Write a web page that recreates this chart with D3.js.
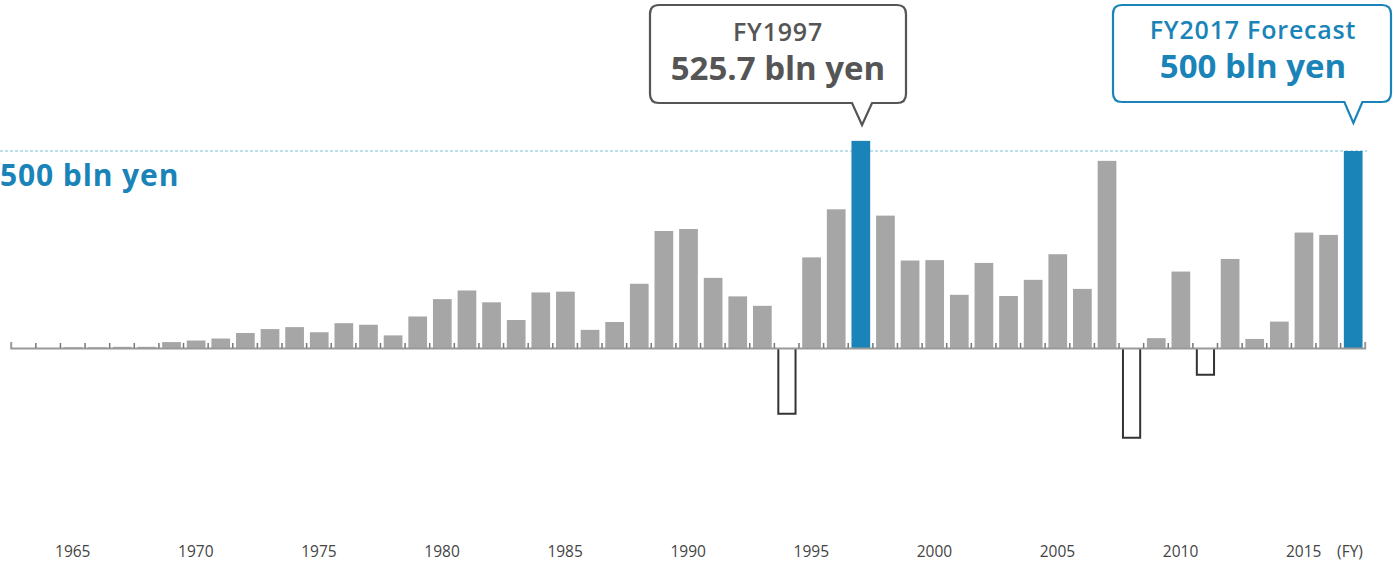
<!DOCTYPE html>
<html>
<head>
<meta charset="utf-8">
<script src="https://d3js.org/d3.v7.min.js"></script>
<style>
  body { margin: 0; background: #fff; }
  svg { display: block; font-family: "Open Sans", "Noto Sans", sans-serif; }
</style>
</head>
<body>
<script>
// fiscal years shown on the axis
var years = d3.range(1963, 2018);

// net income, bln yen, one value per fiscal year
var values = [
  0, 0, 2, 2, 3, 3, 15, 19, 24, 38,
  48, 53, 40, 63, 59, 32, 80, 124, 146, 116,
  71, 141, 143, 46, 66, 163, 297, 302, 178, 131,
  107, -167, 230, 352, 525.7, 336, 222, 223, 135, 216,
  132, 173, 238, 150, 475, -228, 25, 194, -68, 226,
  23, 67, 293, 287, 500
];

// years highlighted in blue, and the year labels under the axis
var highlightYears = [1997, 2017];
var tickYears = [1965, 1970, 1975, 1980, 1985, 1990, 1995, 2000, 2005, 2010, 2015];
var referenceLine = 500;

var data = years.map(function(y, i) { return {year: y, value: values[i]}; });

var width = 1394, height = 563;
var grey = "#a6a6a6", blue = "#1a84b8", textGrey = "#555";

var svg = d3.select("body")
  .append("svg")
    .attr("width", width)
    .attr("height", height);

// linear year scale, each year owns one slot of the same width
var x = d3.scaleLinear()
  .domain([years[0] - 0.5, years[years.length - 1] + 0.5])
  .range([10.7, 1364.7]);

var y = d3.scaleLinear()
  .domain([0, referenceLine])
  .range([348, 151]);

var pad = 0.12;

// dashed 500 bln line
svg.append("line")
  .attr("x1", 0)
  .attr("x2", 1367)
  .attr("y1", y(referenceLine))
  .attr("y2", y(referenceLine))
  .attr("stroke", "#7dbfdc")
  .attr("stroke-width", 1)
  .attr("stroke-dasharray", "3,2");

svg.append("text")
  .attr("x", 0)
  .attr("y", 186)
  .attr("fill", blue)
  .attr("font-size", 30)
  .attr("font-weight", 700)
  .attr("letter-spacing", 0.9)
  .text("500 bln yen");

// positive bars
svg.selectAll("rect.bar")
  .data(data.filter(function(d) { return d.value > 0; }))
  .enter()
  .append("rect")
    .attr("class", "bar")
    .attr("x", function(d) { return x(d.year - 0.5 + pad) + 0.8; })
    .attr("width", function(d) { return x(d.year + 0.5 - pad) - x(d.year - 0.5 + pad); })
    .attr("y", function(d) { return y(d.value); })
    .attr("height", function(d) { return y(0) - y(d.value); })
    .attr("fill", function(d) { return highlightYears.indexOf(d.year) >= 0 ? blue : grey; });

// losses drawn as outlined bars below the axis
svg.selectAll("path.loss")
  .data(data.filter(function(d) { return d.value < 0; }))
  .enter()
  .append("path")
    .attr("class", "loss")
    .attr("d", function(d) {
      var x0 = x(d.year - 0.5 + pad) + 1.5, x1 = x(d.year + 0.5 - pad);
      return "M" + x0 + "," + y(0) + "V" + y(d.value) + "H" + x1 + "V" + y(0);
    })
    .attr("fill", "#fff")
    .attr("stroke", "#333")
    .attr("stroke-width", 2);

// baseline with small ticks between the years
var bounds = years.slice(1).map(function(yr) { return yr - 0.5; });
svg.append("g")
  .attr("class", "x axis")
  .attr("transform", "translate(0," + y(0) + ")")
  .call(d3.axisTop(x).tickValues(bounds).tickSizeInner(5).tickSizeOuter(6).tickFormat(""))
  .call(function(g) {
    g.select(".domain").attr("stroke", "#999").attr("stroke-width", 2);
    g.selectAll(".tick line").attr("stroke", "#777").attr("stroke-width", 1.5);
  });

// year labels
svg.append("g")
  .attr("class", "x labels")
  .attr("transform", "translate(0,546)")
  .call(d3.axisBottom(x).tickValues(tickYears).tickSize(0).tickPadding(0).tickFormat(d3.format("d")))
  .call(function(g) {
    g.select(".domain").remove();
    g.selectAll("text")
      .attr("font-family", "\"Open Sans\", sans-serif")
      .attr("font-size", 15.5)
      .attr("fill", "#444");
  });

svg.append("text")
  .attr("x", 1350)
  .attr("y", 557)
  .attr("text-anchor", "middle")
  .attr("font-size", 15.5)
  .attr("fill", "#444")
  .text("(FY)");

/**
 * calloutPath - rounded box with a pointer at the bottom
 */
function calloutPath(x0, y0, x1, y1, r, tipX, tipY, half) {
  return "M" + (x0 + r) + "," + y0 +
    "H" + (x1 - r) + "Q" + x1 + "," + y0 + " " + x1 + "," + (y0 + r) +
    "V" + (y1 - r) + "Q" + x1 + "," + y1 + " " + (x1 - r) + "," + y1 +
    "H" + (tipX + half) + "L" + tipX + "," + tipY + "L" + (tipX - half) + "," + y1 +
    "H" + (x0 + r) + "Q" + x0 + "," + y1 + " " + x0 + "," + (y1 - r) +
    "V" + (y0 + r) + "Q" + x0 + "," + y0 + " " + (x0 + r) + "," + y0 + "Z";
}

// FY1997 callout
svg.append("path")
  .attr("d", calloutPath(650, 5, 906, 103, 9, x(1997) + 2, 125, 10))
  .attr("fill", "#fff")
  .attr("stroke", "#555")
  .attr("stroke-width", 2.2);

svg.append("text")
  .attr("x", 778).attr("y", 41)
  .attr("text-anchor", "middle")
  .attr("font-size", 25).attr("font-weight", 600)
  .attr("letter-spacing", 0.8)
  .attr("fill", textGrey)
  .text("FY1997");

svg.append("text")
  .attr("x", 778).attr("y", 80)
  .attr("text-anchor", "middle")
  .attr("font-size", 33).attr("font-weight", 700)
  .attr("fill", textGrey)
  .text("525.7 bln yen");

// FY2017 callout
svg.append("path")
  .attr("d", calloutPath(1113, 5, 1391, 102, 9, x(2017) + 1, 123, 9))
  .attr("fill", "#fff")
  .attr("stroke", blue)
  .attr("stroke-width", 2.2);

svg.append("text")
  .attr("x", 1253).attr("y", 39)
  .attr("text-anchor", "middle")
  .attr("font-size", 25).attr("font-weight", 600)
  .attr("letter-spacing", 0.8)
  .attr("fill", blue)
  .text("FY2017 Forecast");

svg.append("text")
  .attr("x", 1253).attr("y", 78)
  .attr("text-anchor", "middle")
  .attr("font-size", 33).attr("font-weight", 700)
  .attr("fill", blue)
  .text("500 bln yen");
</script>
</body>
</html>
